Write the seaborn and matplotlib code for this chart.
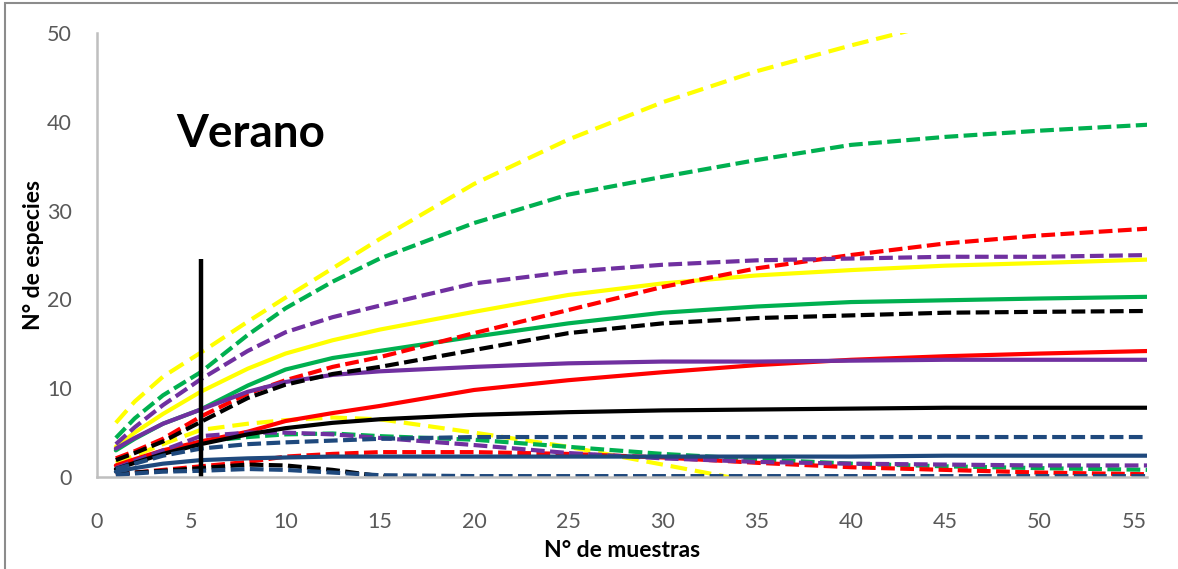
import matplotlib
matplotlib.use("Agg")
import matplotlib.pyplot as plt
import pandas as pd
import seaborn as sns
from matplotlib.patches import Rectangle

# Number of samples (x) at which the accumulation curves are evaluated
muestras = [1, 2, 3.5, 5.5, 8, 10, 12.5, 15, 20, 25, 30, 35, 40, 45, 50, 56]

# Species accumulation: mean (media) and upper/lower confidence bounds (sup/inf)
amarillo_sup = [6.1, 8.5, 11.3, 14.0, 17.5, 20.2, 23.5, 26.8, 33.0, 38.0, 42.2, 45.7, 48.6, 51.3, 53.7, 56.0]
amarillo_media = [3.4, 5.0, 7.1, 9.6, 12.2, 13.9, 15.4, 16.6, 18.6, 20.5, 21.8, 22.7, 23.3, 23.8, 24.1, 24.5]
amarillo_inf = [1.6, 2.4, 3.7, 5.3, 6.0, 6.4, 6.7, 6.5, 5.0, 3.4, 1.4, -0.6, -2.8, -4.6, -6.3, -8.2]

verde_sup = [4.4, 6.6, 9.2, 11.8, 16.0, 19.0, 22.0, 24.6, 28.6, 31.8, 33.8, 35.7, 37.4, 38.3, 39.0, 39.7]
verde_media = [3.0, 4.3, 6.0, 7.6, 10.3, 12.1, 13.4, 14.2, 15.8, 17.3, 18.5, 19.2, 19.7, 19.9, 20.1, 20.3]
verde_inf = [1.1, 1.7, 2.8, 4.0, 4.5, 4.8, 4.9, 4.6, 4.2, 3.4, 2.6, 2.0, 1.5, 1.2, 1.0, 0.8]

rojo_sup = [2.1, 2.9, 4.3, 6.8, 9.4, 10.9, 12.4, 13.5, 16.2, 18.8, 21.4, 23.5, 25.0, 26.3, 27.2, 28.0]
rojo_media = [1.3, 2.0, 3.0, 4.0, 5.1, 6.3, 7.2, 8.0, 9.8, 10.9, 11.8, 12.6, 13.2, 13.6, 13.9, 14.2]
rojo_inf = [0.3, 0.5, 0.8, 1.2, 1.7, 2.3, 2.6, 2.8, 2.8, 2.6, 2.2, 1.6, 1.1, 0.8, 0.5, 0.3]

morado_sup = [3.7, 5.6, 8.1, 11.0, 14.2, 16.3, 18.0, 19.3, 21.8, 23.1, 23.9, 24.4, 24.6, 24.8, 24.8, 25.0]
morado_media = [3.2, 4.4, 6.0, 7.6, 9.6, 10.7, 11.5, 11.9, 12.4, 12.8, 13.0, 13.0, 13.1, 13.2, 13.2, 13.2]
morado_inf = [1.0, 1.8, 3.0, 4.6, 5.0, 5.0, 4.8, 4.4, 3.6, 2.7, 2.1, 1.7, 1.5, 1.4, 1.3, 1.3]

negro_sup = [1.9, 2.7, 4.0, 6.2, 8.9, 10.4, 11.6, 12.4, 14.3, 16.2, 17.3, 17.9, 18.2, 18.5, 18.6, 18.7]
negro_media = [0.9, 1.6, 2.6, 3.7, 4.8, 5.5, 6.1, 6.5, 7.0, 7.3, 7.5, 7.6, 7.7, 7.8, 7.8, 7.8]
negro_inf = [0.3, 0.5, 0.7, 1.0, 1.4, 1.3, 0.8, 0.1, -0.8, -1.2, -1.5, -1.7, -1.9, -2.0, -2.1, -2.2]

azul_sup = [0.9, 1.5, 2.4, 3.2, 3.7, 3.9, 4.1, 4.3, 4.5, 4.5, 4.5, 4.5, 4.5, 4.5, 4.5, 4.5]
azul_media = [0.6, 1.0, 1.5, 1.9, 2.1, 2.2, 2.3, 2.3, 2.3, 2.3, 2.3, 2.3, 2.3, 2.4, 2.4, 2.4]
azul_inf = [0.2, 0.4, 0.6, 0.7, 0.9, 0.8, 0.5, 0.2, 0.1, 0.1, 0.1, 0.1, 0.1, 0.1, 0.1, 0.1]

# Reference mark: vertical bar at 5.5 samples
corte_x = 5.5
corte_alto = 24.5

x_ticks = [0, 5, 10, 15, 20, 25, 30, 35, 40, 45, 50, 55]
y_ticks = [0, 10, 20, 30, 40, 50]

grupos = {
    "amarillo": ("#FFFF00", amarillo_media, amarillo_sup, amarillo_inf),
    "verde": ("#00B050", verde_media, verde_sup, verde_inf),
    "rojo": ("#FF0000", rojo_media, rojo_sup, rojo_inf),
    "morado": ("#7030A0", morado_media, morado_sup, morado_inf),
    "negro": ("#000000", negro_media, negro_sup, negro_inf),
    "azul": ("#1F497D", azul_media, azul_sup, azul_inf),
}

filas = []
for nombre, (color, media, sup, inf) in grupos.items():
    for tipo, valores in (("media", media), ("sup", sup), ("inf", inf)):
        for m, v in zip(muestras, valores):
            filas.append({"grupo": nombre, "tipo": tipo, "muestras": m, "especies": v})
df = pd.DataFrame(filas)

sns.set_style("white")
plt.rcParams["font.family"] = ["Lato", "DejaVu Sans"]

W, H = 1178, 569
fig = plt.figure(figsize=(W / 100, H / 100), dpi=100)
ax = fig.add_axes([97 / W, 1 - 477 / H, 1050 / W, 444 / H])

lw = 3.0
for nombre, (color, *_rest) in grupos.items():
    largo = (4.0, 1.9) if nombre == "amarillo" else (3.3, 1.3)
    for tipo in ("sup", "inf", "media"):
        sub = df[(df.grupo == nombre) & (df.tipo == tipo)]
        estilo = "-" if tipo == "media" else (0, largo)
        sns.lineplot(data=sub, x="muestras", y="especies", color=color,
                     linewidth=lw, linestyle=estilo, ax=ax, legend=False,
                     estimator=None, sort=True)

ax.vlines(corte_x, 0, corte_alto, color="black", linewidth=3.2, zorder=5)

ax.set_xlim(0, 55.7)
ax.set_ylim(0, 50)
ax.set_xticks(x_ticks)
ax.set_yticks(y_ticks)
ax.tick_params(axis="both", length=0, labelsize=15.5, labelcolor="#595959")
ax.tick_params(axis="x", pad=25)
ax.tick_params(axis="y", pad=18)

for lado in ("top", "right"):
    ax.spines[lado].set_visible(False)
for lado in ("left", "bottom"):
    ax.spines[lado].set_color("#BFBFBF")
    ax.spines[lado].set_linewidth(1.8)
    ax.spines[lado].set_zorder(6)

ax.set_xlabel("N° de muestras", fontsize=16.5, fontweight="bold", color="black")
ax.set_ylabel("N° de especies", fontsize=16.5, fontweight="bold", color="black")
ax.xaxis.set_label_coords(0.5, -0.142)
ax.yaxis.set_label_coords(-0.05, 0.5)

ax.text(4.2, 37.2, "Verano", fontsize=33, fontweight="bold", color="black",
        ha="left", va="baseline")

fig.add_artist(Rectangle((5 / W, -0.05), 1.1, 1.05 - 3 / H, transform=fig.transFigure,
                         fill=False, edgecolor="#8C8C8C", linewidth=1.5))

fig.savefig("out.png", dpi=100, facecolor="white")
